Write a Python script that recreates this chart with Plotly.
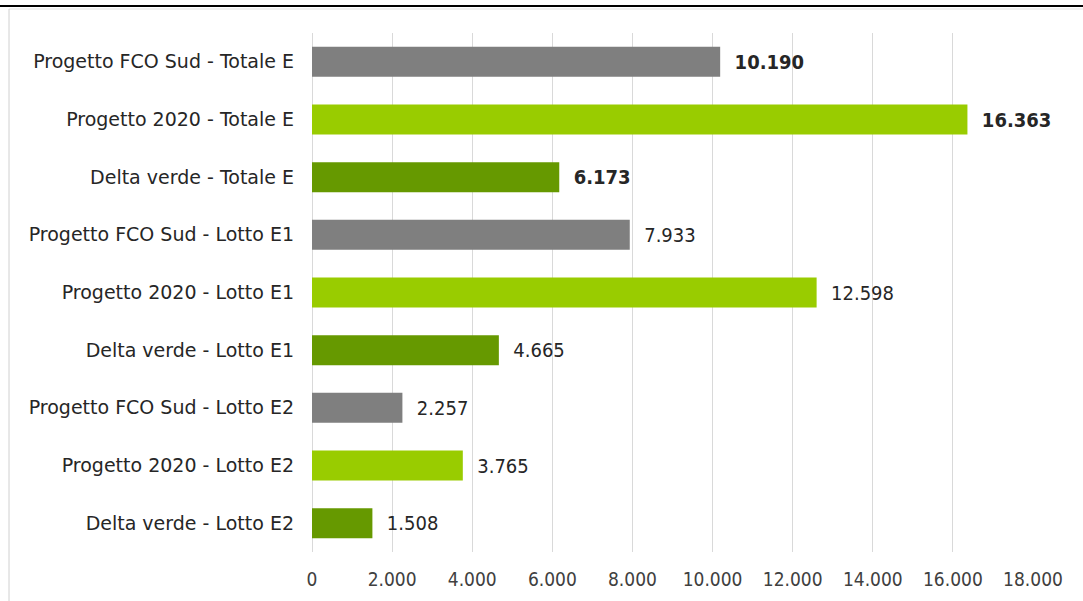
import plotly.graph_objects as go

categories = [
    "Progetto FCO Sud - Totale E",
    "Progetto 2020 - Totale E",
    "Delta verde - Totale E",
    "Progetto FCO Sud - Lotto E1",
    "Progetto 2020 - Lotto E1",
    "Delta verde - Lotto E1",
    "Progetto FCO Sud - Lotto E2",
    "Progetto 2020 - Lotto E2",
    "Delta verde - Lotto E2",
]
values = [10190, 16363, 6173, 7933, 12598, 4665, 2257, 3765, 1508]
bold_flags = [True, True, True, False, False, False, False, False, False]
bar_colors = ["#7F7F7F", "#99CC00", "#669900"] * 3
tick_values = [0, 2000, 4000, 6000, 8000, 10000, 12000, 14000, 16000, 18000]

W, H = 1083, 601
ML, MR, MT, MB = 312, 50, 33, 49
PW, PH = W - ML - MR, H - MT - MB

FONT = "DejaVu Sans Condensed, Liberation Sans, sans-serif"
FONT_CAT = "DejaVu Sans, Liberation Sans, sans-serif"

def fmt(v):
    return f"{v:,}".replace(",", ".")

texts = []
for v, b in zip(values, bold_flags):
    s = fmt(v)
    if b:
        s = "<b>" + s + "</b>"
    texts.append("\u00a0\u00a0" + s)

fig = go.Figure(
    go.Bar(
        x=values,
        y=categories,
        orientation="h",
        marker=dict(color=bar_colors, line=dict(width=0)),
        text=texts,
        textposition="outside",
        textfont=dict(family=FONT, size=20, color="#262626"),
        constraintext="none",
        cliponaxis=False,
        width=0.52,
        hoverinfo="skip",
    )
)

def px_to_paper_x(px):
    return (px - ML) / PW

def px_to_paper_y(py):
    return (H - MB - py) / PH

fig.update_layout(
    width=W,
    height=H,
    margin=dict(l=ML, r=MR, t=MT, b=MB, pad=0),
    plot_bgcolor="white",
    paper_bgcolor="white",
    separators=",.",
    showlegend=False,
    font=dict(family=FONT, size=19, color="#262626"),
    xaxis=dict(
        range=[0, 18000],
        tickvals=tick_values,
        tickformat=",d",
        showgrid=True,
        gridcolor="#D9D9D9",
        gridwidth=1,
        zeroline=True,
        zerolinecolor="#D9D9D9",
        zerolinewidth=1,
        showline=False,
        ticks="",
        ticklabelstandoff=14,
        tickfont=dict(family=FONT, size=19, color="#404040"),
        automargin=False,
        fixedrange=True,
    ),
    yaxis=dict(
        categoryorder="array",
        categoryarray=categories,
        autorange="reversed",
        showgrid=False,
        showline=False,
        ticks="",
        ticklabelstandoff=17,
        tickfont=dict(family=FONT_CAT, size=19, color="#262626"),
        automargin=False,
        fixedrange=True,
    ),
    shapes=[
        dict(type="line", xref="paper", yref="paper",
             x0=px_to_paper_x(0), x1=px_to_paper_x(W),
             y0=px_to_paper_y(6), y1=px_to_paper_y(6),
             line=dict(color="black", width=2)),
        dict(type="line", xref="paper", yref="paper",
             x0=px_to_paper_x(9), x1=px_to_paper_x(W),
             y0=px_to_paper_y(9), y1=px_to_paper_y(9),
             line=dict(color="#E3E3E3", width=1)),
        dict(type="line", xref="paper", yref="paper",
             x0=px_to_paper_x(9), x1=px_to_paper_x(9),
             y0=px_to_paper_y(9), y1=px_to_paper_y(H),
             line=dict(color="#D0D0D0", width=1)),
    ],
)

fig.write_html("out.html")
